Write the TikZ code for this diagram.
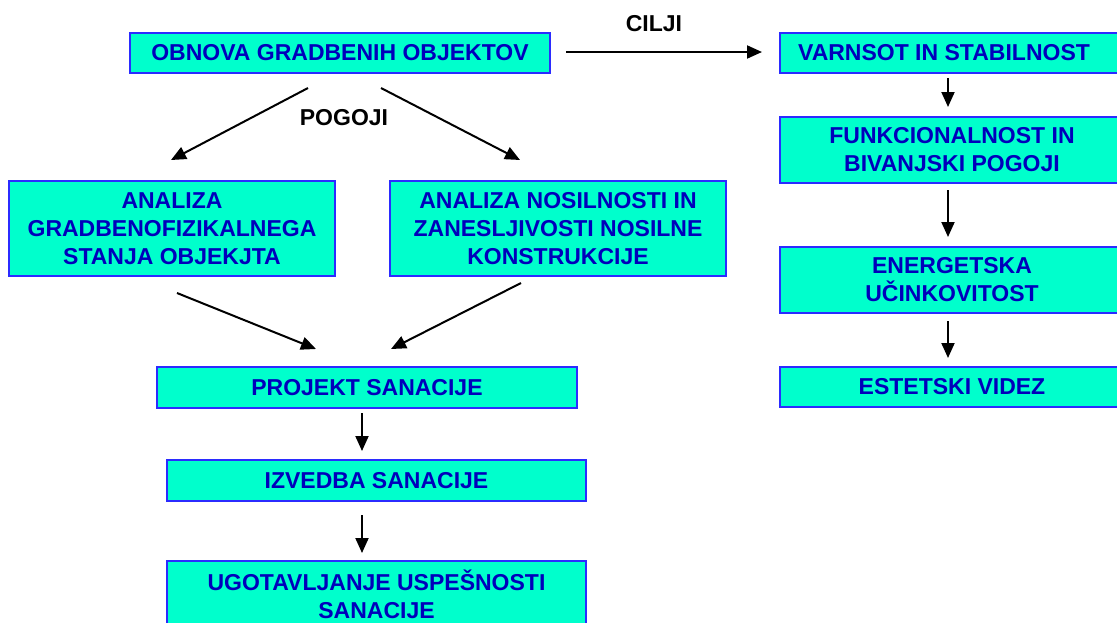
\documentclass[tikz,border=0pt]{standalone}
\usepackage{fontspec}
\setmainfont{Liberation Sans}
\usetikzlibrary{arrows.meta}
\definecolor{boxfill}{HTML}{00FFCC}
\definecolor{boxline}{HTML}{2B2BFF}
\definecolor{boxtext}{HTML}{0000BB}
\begin{document}
\begin{tikzpicture}[x=1pt,y=-1pt,
  box/.style={draw=boxline, line width=2pt, fill=boxfill, text=boxtext,
    font=\bfseries\fontsize{23}{28}\selectfont, align=center, inner sep=0pt},
  lbl/.style={font=\bfseries\fontsize{23}{28}\selectfont, text=black, inner sep=0pt},
  arr/.style={line width=2pt, -{Triangle[length=15pt,width=13pt]}}]
\path[use as bounding box, clip] (0,0) rectangle (1117,622);
\fill[white] (0,0) rectangle (1117,622);
% left column
\node[box, minimum width=420pt, minimum height=40pt] (obnova) at (340,53) {OBNOVA GRADBENIH OBJEKTOV};
\node[box, minimum width=326pt, minimum height=95pt] (anL) at (172,228.5) {ANALIZA\\GRADBENOFIZIKALNEGA\\STANJA OBJEKJTA};
\node[box, minimum width=336pt, minimum height=95pt] (anR) at (558,228.5) {ANALIZA NOSILNOSTI IN\\ZANESLJIVOSTI NOSILNE\\KONSTRUKCIJE};
\node[box, minimum width=420pt, minimum height=41pt] (proj) at (367,387.5) {PROJEKT SANACIJE};
\node[box, minimum width=419pt, minimum height=41pt] (izv) at (376.5,480.5) {IZVEDBA SANACIJE};
\node[box, minimum width=419pt, minimum height=66pt] (ugo) at (376.5,594) {UGOTAVLJANJE USPEŠNOSTI\\SANACIJE};
% right column
\node[box, minimum width=344pt, minimum height=40pt] (varn) at (952,53) {VARNSOT IN STABILNOST\hspace*{16pt}};
\node[box, minimum width=344pt, minimum height=66pt] (funk) at (952,150) {FUNKCIONALNOST IN\\BIVANJSKI POGOJI};
\node[box, minimum width=344pt, minimum height=66pt] (energ) at (952,280) {ENERGETSKA\\UČINKOVITOST};
\node[box, minimum width=344pt, minimum height=40pt] (estet) at (952,387) {ESTETSKI VIDEZ};
% labels
\node[lbl] (pogoji) at (344,118) {POGOJI};
\node[lbl] (cilji) at (654,24) {CILJI};
% connector end points
\coordinate (a1s) at (308,88);  \coordinate (a1e) at (171,160);
\coordinate (a2s) at (381,88);  \coordinate (a2e) at (520,160);
\coordinate (a3s) at (177,293); \coordinate (a3e) at (316,349);
\coordinate (a4s) at (521,283); \coordinate (a4e) at (391,349);
\coordinate (cs) at (566,52);   \coordinate (ce) at (762,52);
\coordinate (d1s) at (362,413); \coordinate (d1e) at (362,451);
\coordinate (d2s) at (362,515); \coordinate (d2e) at (362,553);
\coordinate (r1s) at (948,78);  \coordinate (r1e) at (948,107);
\coordinate (r2s) at (948,190); \coordinate (r2e) at (948,237);
\coordinate (r3s) at (948,321); \coordinate (r3e) at (948,358);
% connectors
\draw[arr] (a1s) -- (a1e);
\draw[arr] (a2s) -- (a2e);
\draw[arr] (a3s) -- (a3e);
\draw[arr] (a4s) -- (a4e);
\draw[arr] (cs) -- (ce);
\draw[arr] (d1s) -- (d1e);
\draw[arr] (d2s) -- (d2e);
\draw[arr] (r1s) -- (r1e);
\draw[arr] (r2s) -- (r2e);
\draw[arr] (r3s) -- (r3e);
\end{tikzpicture}
\end{document}
